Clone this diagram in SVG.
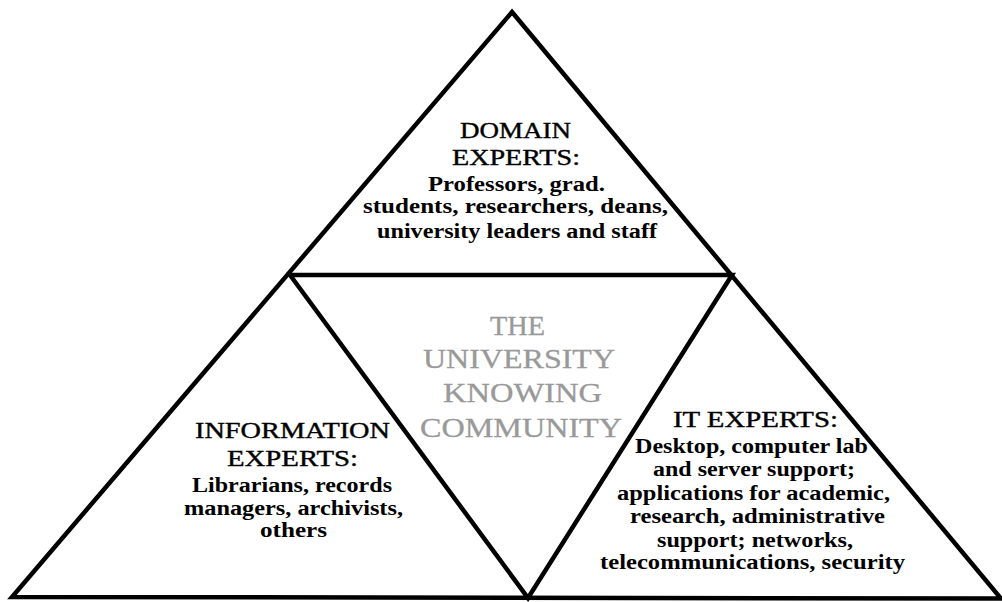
<svg xmlns="http://www.w3.org/2000/svg" width="1002" height="602" viewBox="0 0 1002 602">
<style>
.ln{fill:none;stroke:#000;stroke-width:4.5;stroke-linejoin:miter;stroke-linecap:butt}
.h{font-family:"Liberation Serif","Times New Roman",serif;font-size:24px;fill:#000;stroke:#000;stroke-width:0.4}
.b{font-family:"Liberation Serif","Times New Roman",serif;font-size:20px;font-weight:bold;fill:#000}
.c{font-family:"Liberation Serif","Times New Roman",serif;font-size:28px;fill:#999;stroke:#999;stroke-width:0.3}
</style>
<rect width="1002" height="602" fill="#fff"/>
<g id="frame">
<polygon class="ln" points="512,12 1001,598.5 12,597"/>
<polyline class="ln" points="290,275 732,275 528,598 290,275"/>
</g>
<g id="domain-experts">
<text class="h" x="460" y="138" textLength="111" lengthAdjust="spacingAndGlyphs">DOMAIN</text>
<text class="h" x="452" y="165" textLength="128" lengthAdjust="spacingAndGlyphs">EXPERTS:</text>
<text class="b" x="428" y="191" textLength="177" lengthAdjust="spacingAndGlyphs">Professors, grad.</text>
<text class="b" x="363" y="213" textLength="305" lengthAdjust="spacingAndGlyphs">students, researchers, deans,</text>
<text class="b" x="377" y="238" textLength="280" lengthAdjust="spacingAndGlyphs">university leaders and staff</text>
</g>
<g id="community">
<text class="c" x="490" y="335" textLength="55" lengthAdjust="spacingAndGlyphs">THE</text>
<text class="c" x="423" y="368" textLength="192" lengthAdjust="spacingAndGlyphs">UNIVERSITY</text>
<text class="c" x="443" y="402" textLength="159" lengthAdjust="spacingAndGlyphs">KNOWING</text>
<text class="c" x="420" y="437" textLength="202" lengthAdjust="spacingAndGlyphs">COMMUNITY</text>
</g>
<g id="information-experts">
<text class="h" x="195" y="438" textLength="195" lengthAdjust="spacingAndGlyphs">INFORMATION</text>
<text class="h" x="227" y="466" textLength="131" lengthAdjust="spacingAndGlyphs">EXPERTS:</text>
<text class="b" x="192" y="492" textLength="200" lengthAdjust="spacingAndGlyphs">Librarians, records</text>
<text class="b" x="184" y="515" textLength="219" lengthAdjust="spacingAndGlyphs">managers, archivists,</text>
<text class="b" x="260" y="537" textLength="67" lengthAdjust="spacingAndGlyphs">others</text>
</g>
<g id="it-experts">
<text class="h" x="673" y="427" textLength="165" lengthAdjust="spacingAndGlyphs">IT EXPERTS:</text>
<text class="b" x="635" y="453" textLength="233" lengthAdjust="spacingAndGlyphs">Desktop, computer lab</text>
<text class="b" x="653" y="476" textLength="202" lengthAdjust="spacingAndGlyphs">and server support;</text>
<text class="b" x="617" y="500" textLength="273" lengthAdjust="spacingAndGlyphs">applications for academic,</text>
<text class="b" x="630" y="523" textLength="255" lengthAdjust="spacingAndGlyphs">research, administrative</text>
<text class="b" x="657" y="547" textLength="196" lengthAdjust="spacingAndGlyphs">support; networks,</text>
<text class="b" x="600" y="569" textLength="305" lengthAdjust="spacingAndGlyphs">telecommunications, security</text>
</g>
</svg>
